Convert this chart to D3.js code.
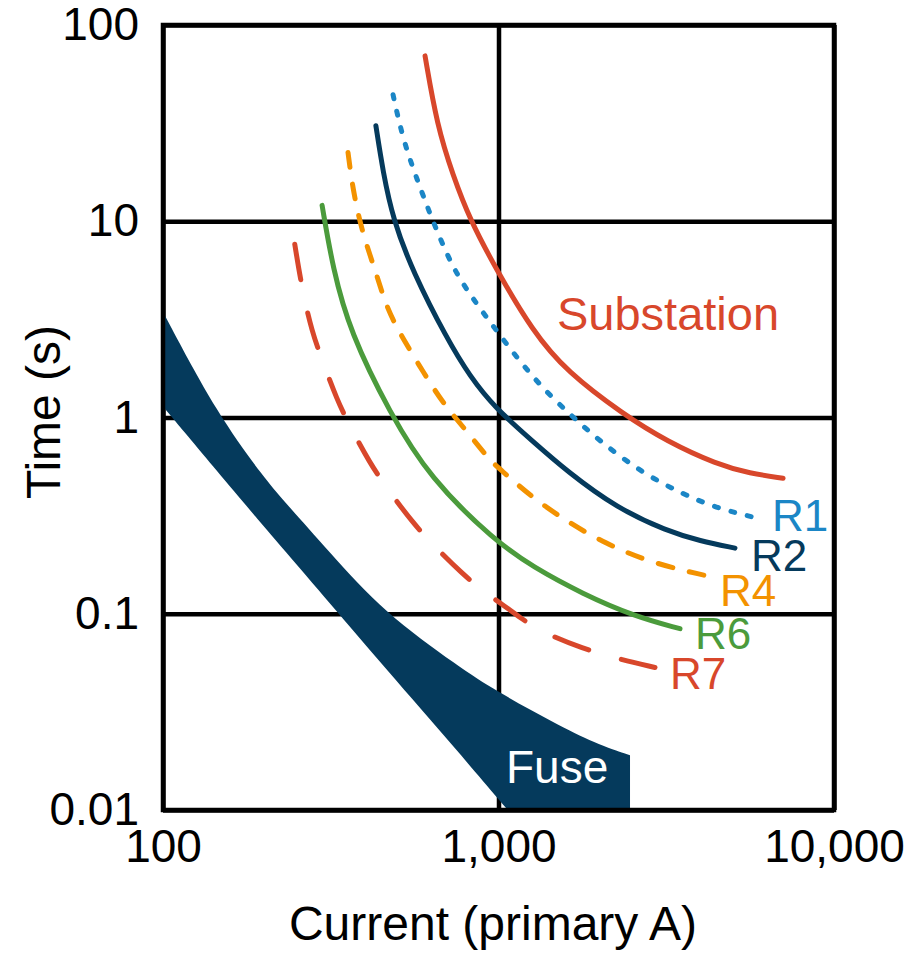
<!DOCTYPE html>
<html>
<head>
<meta charset="utf-8">
<script src="https://cdn.jsdelivr.net/npm/d3@7/dist/d3.min.js"></script>
<style>
  body { margin: 0; background: #fff; }
  svg text { font-family: "Liberation Sans", Arial, sans-serif; }
</style>
</head>
<body>
<svg id="chart" width="915" height="954"></svg>
<script>
'use strict';

// axis ticks
var xTicks = [100, 1000, 10000];
var xTickLabels = ['100', '1,000', '10,000'];
var yTicks = [0.01, 0.1, 1, 10, 100];
var yTickLabels = ['0.01', '0.1', '1', '10', '100'];

// relay curves, current in primary A, time in s
var subCurrent = [604, 656, 732, 822, 976, 1267, 1600, 2350, 3180, 4480, 5620, 7050];
var subTime    = [69.6, 30.7, 17.1, 10.2, 5.84, 2.73, 1.71, 1.04, 0.755, 0.577, 0.519, 0.49];

var r1Current = [485, 519, 572, 634, 732, 840, 976, 1267, 1600, 2007, 2696, 3547, 4480, 5735];
var r1Time    = [44.1, 26.1, 16.3, 10.2, 5.71, 4.02, 2.83, 1.58, 1.07, 0.755, 0.519, 0.407, 0.345, 0.311];

var r2Current = [431, 453, 485, 556, 702, 822, 976, 1267, 1600, 2256, 3178, 3986, 5068];
var r2Time    = [30.7, 17.7, 10.2, 5.51, 2.52, 1.62, 1.12, 0.755, 0.532, 0.345, 0.264, 0.235, 0.216];

var r4Current = [356, 368, 392, 434, 465, 519, 596, 683, 806, 931, 1010, 1267, 1600, 2007, 2829, 4183];
var r4Time    = [22.4, 14.5, 8.79, 5.32, 3.58, 2.52, 1.71, 1.18, 0.849, 0.619, 0.545, 0.388, 0.296, 0.235, 0.182, 0.156];

var r6Current = [298, 321, 361, 475, 625, 976, 1267, 1786, 2517, 3475];
var r6Time    = [12.05, 5.71, 2.73, 1.05, 0.49, 0.235, 0.173, 0.126, 0.0977, 0.0839];

var r7Current = [247, 260, 278, 298, 330, 361, 414, 465, 556, 634, 779, 912, 1010, 1159, 1357, 1786, 2256, 2927];
var r7Time    = [7.64, 4.46, 2.73, 1.97, 1.23, 0.9, 0.584, 0.436, 0.29, 0.227, 0.16, 0.128, 0.114, 0.0954, 0.0801, 0.0664, 0.0591, 0.0532];

// fuse band: max and min clearing time
var fuseCurrent = [100, 145, 204, 223, 315, 453, 768, 976, 1474, 1939, 2466];
var fuseMaxTime = [3.45, 1.04, 0.473, 0.397, 0.204, 0.1024, 0.0532, 0.0407, 0.0276, 0.0219, 0.019];
var fuseMinTime = [1.137, 0.532, 0.267, 0.224, 0.1124, 0.0544, 0.0193, 0.0119, 0.00526, 0.00303, 0.00188];

var RED = '#d8472b', BLUE = '#1b86c6', NAVY = '#053a5c', ORANGE = '#f39200', GREEN = '#4b9b3c';

var series = [
    {name: 'Substation', current: subCurrent, time: subTime, color: RED, dash: null},
    {name: 'R1', current: r1Current, time: r1Time, color: BLUE, dash: '4,13'},
    {name: 'R2', current: r2Current, time: r2Time, color: NAVY, dash: null},
    {name: 'R4', current: r4Current, time: r4Time, color: ORANGE, dash: '15,17'},
    {name: 'R6', current: r6Current, time: r6Time, color: GREEN, dash: null},
    {name: 'R7', current: r7Current, time: r7Time, color: RED, dash: '36,34'}
];

// label offsets (px) from each relay curve's last point
var labelOffsets = {R1: [19, 14], R2: [16, 23], R4: [13, 30], R6: [15, 20], R7: [15, 21]};

var plotLeft = 163, plotRight = 834, plotTop = 25, plotBottom = 810;

var svg = d3.select('#chart');

var x = d3.scaleLog().domain([100, 10000]).range([plotLeft, plotRight]);
var y = d3.scaleLog().domain([0.01, 100]).range([plotBottom, plotTop]);

svg.append('defs').append('clipPath')
    .attr('id', 'plotClip')
    .append('rect')
    .attr('x', plotLeft).attr('y', plotTop)
    .attr('width', plotRight - plotLeft).attr('height', plotBottom - plotTop);

// grid + tick labels
var yAxis = svg.append('g')
    .attr('transform', 'translate(' + plotLeft + ',0)')
    .call(d3.axisLeft(y)
        .tickValues(yTicks)
        .tickFormat(function (d, i) { return yTickLabels[i]; })
        .tickSize(-(plotRight - plotLeft))
        .tickPadding(24));
var xAxis = svg.append('g')
    .attr('transform', 'translate(0,' + plotBottom + ')')
    .call(d3.axisBottom(x)
        .tickValues(xTicks)
        .tickFormat(function (d, i) { return xTickLabels[i]; })
        .tickSize(-(plotBottom - plotTop))
        .tickPadding(19));

[yAxis, xAxis].forEach(function (ax) {
    ax.select('.domain').remove();
    ax.selectAll('line').attr('stroke', '#000').attr('stroke-width', 4.5);
    ax.selectAll('text').attr('fill', '#000').attr('font-size', 46)
        .attr('font-family', '"Liberation Sans", Arial, sans-serif');
});

var plot = svg.append('g').attr('clip-path', 'url(#plotClip)');

// fuse band
var fuseData = fuseCurrent.map(function (c, i) {
    return {c: c, hi: fuseMaxTime[i], lo: fuseMinTime[i]};
});
plot.append('path')
    .datum(fuseData)
    .attr('fill', NAVY)
    .attr('d', d3.area()
        .x(function (d) { return x(d.c); })
        .y0(function (d) { return y(d.lo); })
        .y1(function (d) { return y(d.hi); })
        .curve(d3.curveBasis));

// relay curves
var line = d3.line()
    .x(function (d) { return x(d[0]); })
    .y(function (d) { return y(d[1]); })
    .curve(d3.curveBasis);

series.forEach(function (s) {
    var pts = s.current.map(function (c, i) { return [c, s.time[i]]; });
    plot.append('path')
        .datum(pts)
        .attr('fill', 'none')
        .attr('stroke', s.color)
        .attr('stroke-width', 5)
        .attr('stroke-linecap', 'round')
        .attr('stroke-dasharray', s.dash)
        .attr('d', line);

    var off = labelOffsets[s.name];
    if (off) {
        var last = pts[pts.length - 1];
        svg.append('text')
            .attr('x', x(last[0]) + off[0])
            .attr('y', y(last[1]) + off[1])
            .attr('fill', s.color)
            .attr('font-size', 44)
            .text(s.name);
    }
});

// annotations
svg.append('text')
    .attr('x', x(1494)).attr('y', y(2.8))
    .attr('fill', RED).attr('font-size', 47)
    .text('Substation');

svg.append('text')
    .attr('x', x(1053)).attr('y', y(0.0137))
    .attr('fill', '#fff').attr('font-size', 46)
    .text('Fuse');

// frame
svg.append('rect')
    .attr('x', plotLeft).attr('y', plotTop)
    .attr('width', plotRight - plotLeft).attr('height', plotBottom - plotTop)
    .attr('fill', 'none')
    .attr('stroke', '#000')
    .attr('stroke-width', 4.5);

// axis titles
svg.append('text')
    .attr('x', 493).attr('y', 940)
    .attr('text-anchor', 'middle')
    .attr('font-size', 48)
    .text('Current (primary A)');

svg.append('text')
    .attr('transform', 'translate(60,412) rotate(-90)')
    .attr('text-anchor', 'middle')
    .attr('font-size', 48)
    .text('Time (s)');
</script>
</body>
</html>
